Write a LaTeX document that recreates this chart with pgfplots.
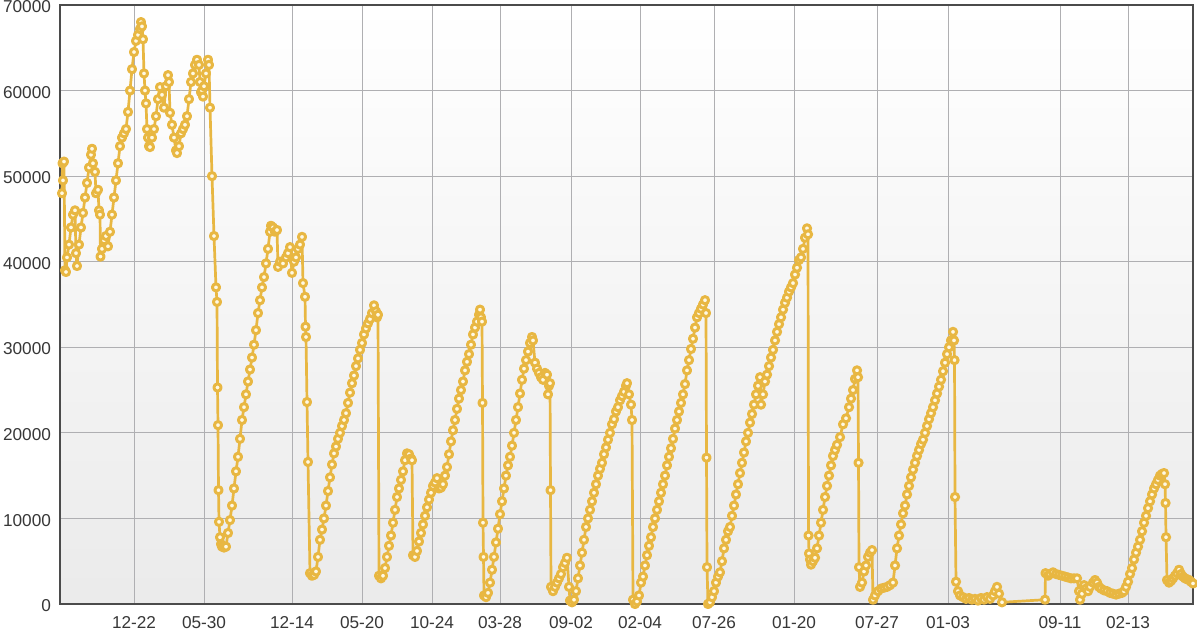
\documentclass[border=0pt]{standalone}
\usepackage{pgfplots}
\pgfplotsset{compat=1.18}
\usepackage{fontspec}
\setmainfont{Liberation Sans}
\definecolor{gold}{RGB}{232,183,66}
\definecolor{markfill}{RGB}{255,249,228}
\definecolor{labelgray}{RGB}{55,55,55}
\definecolor{axisgray}{RGB}{75,75,75}
\definecolor{gridgray}{RGB}{175,175,178}
\begin{document}
\begin{tikzpicture}
\begin{axis}[
  name=ax, at={(0,0)}, anchor=south west,
  scale only axis, width=566.5pt, height=299.5pt,
  xmin=60, xmax=1193, ymin=0, ymax=70000,
  xtick={134,204,292,362,432,500,571,640,714,794,877,948,1060,1128},
  xticklabels={12-22,05-30,12-14,05-20,10-24,03-28,09-02,02-04,07-26,01-20,07-27,01-03,09-11,02-13},
  ytick={0,10000,20000,30000,40000,50000,60000,70000},
  scaled y ticks=false,
  yticklabel style={/pgf/number format/1000 sep={}},
  /pgf/number format/assume math mode=true,
  grid=major,
  major grid style={draw=gridgray, line width=0.45pt},
  major tick length=0pt,
  tick style={draw=none},
  axis line style={draw=axisgray, line width=1.1pt},
  axis background/.style={shade, top color=white, bottom color=gray!16},
  tick label style={font=\fontsize{8.6}{10}\selectfont, color=labelgray},
  xticklabel style={yshift=-2.5pt},
  yticklabel style={xshift=-1pt, yshift=-0.9pt},
  clip=false,
]
\addplot[color=gold, line width=1.35pt, line join=round, line cap=round, mark=*, mark size=1.8pt,
  mark options={fill=markfill, draw=gold, line width=1.5pt}] coordinates {
(62,48000)(62.5,51500)(63,49500)(64,51700)(65,39000)(66,38800)(67,40500)(69,42000)(71,44000)(73,45500)(75,46000)(76,41000)(77,39500)(79,42000)(81,44000)(83,45700)(85,47500)(87,49200)(89,51000)(91,52500)(92,53200)(93,51500)(95,50500)(96,48000)(98,48400)(99,46000)(100,45500)(100.5,40600)(102,41500)(104,42500)(106,43000)(108,41800)(110,43500)(112,45500)(114,47500)(116,49500)(118,51500)(120,53500)(122,54500)(124,55000)(126,55500)(128,57500)(130,60000)(132,62500)(134,64500)(136,65800)(138,66500)(140,67200)(141,68000)(142,67500)(143,66000)(144,62000)(145,60000)(146,58500)(147,55500)(148,54500)(149,53500)(150,53400)(152,54500)(154,55500)(156,57000)(158,59000)(160,60400)(162,59500)(164,58000)(166,60500)(168,61800)(169,61000)(170,57400)(172,56000)(174,54500)(176,53000)(177,52700)(179,53500)(181,55000)(183,55500)(185,56000)(187,57000)(189,59000)(191,61000)(193,62000)(195,63000)(197,63600)(199,63000)(200,61000)(201,59800)(202,60000)(203,59300)(204,60500)(206,62000)(208,63600)(209,63000)
(210,58000)(212,50000)(214,43000)(216,37000)(217,35300)(217.5,25300)(218,20900)(218.5,13300)(219,9600)(220,7800)(221,7000)(222,6700)(224,6600)(226,6700)(228,8300)(230,9800)(232,11500)(234,13500)(236,15500)(238,17200)(240,19300)(242,21500)(244,23000)(246,24500)(248,26000)(250,27400)(252,28800)(254,30300)(256,32000)(258,34000)(260,35500)(262,37000)(264,38200)(266,39800)(268,41500)(270,43500)(271,44200)(273,44000)(275,43500)(277,43700)(278,39400)(280,40000)(283,39800)(286,40500)(288,41000)(290,41700)(292,38700)(294,40000)(296,40500)(298,41500)(300,42000)(302,42900)(303,37500)(305,35900)(305.5,32400)(306,31200)(307,23600)(308,16600)(310,3600)(312,3300)(314,3400)(316,3800)(318,5500)(320,7500)(322,8700)(324,10000)(326,11500)(328,13200)(330,14800)(332,16300)(334,17600)(336,18400)(338,19300)(340,20000)(342,20800)(344,21500)(346,22300)(348,23500)(350,24700)(352,25800)(354,26700)(356,27800)(358,28700)(360,29700)(362,30500)(364,31500)(366,32200)(368,32800)(370,33300)(372,34000)(374,34900)(376,34200)(377,33500)(378,33800)
(379,3300)(381,3000)(383,3300)(385,4200)(387,5500)(389,6800)(391,8000)(393,9500)(395,11000)(397,12500)(399,13500)(401,14500)(403,15500)(405,16800)(407,17600)(409,17500)(411,17000)(412,16800)(413,5700)(415,5500)(417,6200)(419,7300)(421,8300)(423,9300)(425,10300)(427,11300)(429,12200)(431,13000)(433,13800)(435,14200)(437,14700)(439,13500)(441,13600)(443,14000)(445,15000)(447,16000)(449,17500)(451,19000)(453,20300)(455,21500)(457,22800)(459,24000)(461,25000)(463,26000)(465,27300)(467,28300)(469,29200)(471,30300)(473,31500)(475,32300)(477,33000)(479,33800)(480,34400)(481,33500)(482,33000)(482.5,23500)(483,9500)(483.5,5500)(484,1000)(486,800)(488,1300)(490,2500)(492,4000)(494,5500)(496,7200)(498,8800)(500,10500)(502,12000)(504,13500)(506,15000)(508,16200)(510,17200)(512,18500)(514,20000)(516,21500)(518,23000)(520,24600)(522,26200)(524,27500)(526,28500)(528,29500)(530,30500)(532,31200)(533,30800)(535,28200)(537,27500)(539,27000)(541,26500)(543,26200)(545,27000)(547,26800)(548,24500)(549,25500)(550,25800)(550.5,13300)(551,2000)(553,1500)(555,2000)(557,2500)(559,3000)(561,3500)(563,4300)(565,4800)(567,5400)(569,2000)
(570,400)(572,200)(574,500)(576,1500)(578,3000)(580,4500)(582,6000)(584,7500)(586,9000)(588,10000)(590,11000)(592,12000)(594,13000)(596,14000)(598,15000)(600,15800)(602,16500)(604,17500)(606,18300)(608,19200)(610,20000)(612,21000)(614,21600)(616,22500)(618,23000)(620,23800)(622,24300)(624,24800)(626,25500)(627,25800)(629,24500)(631,23300)(632,21500)(633,500)(635,0)(637,300)(639,1000)(641,2500)(643,3200)(645,4500)(647,5700)(649,6800)(651,7800)(653,9000)(655,10000)(657,11000)(659,12000)(661,13000)(663,14000)(665,15000)(667,16200)(669,17200)(671,18200)(673,19300)(675,20500)(677,21500)(679,22500)(681,23500)(683,24500)(685,25700)(687,27300)(689,28500)(691,29800)(693,31000)(695,32300)(697,33500)(699,34000)(701,34500)(703,35000)(705,35500)(706,34000)(706.5,17100)(707,4300)(708,0)(710,200)(712,800)(714,1500)(716,2500)(718,3200)(720,3700)(722,5000)(724,6500)(726,7500)(728,8500)(730,9000)(732,10300)(734,11500)(736,12800)(738,14000)(740,15300)(742,16500)(744,17700)(746,19000)(748,20000)(750,21200)(752,22200)(754,23300)(756,24500)(758,25500)(760,26500)(761,23300)(763,24500)(765,26000)(767,26800)(769,27800)(771,28800)(773,29700)(775,30800)(777,31800)(779,32700)(781,33500)(783,34400)(785,35200)(787,35800)(789,36500)(791,37000)(793,37500)(795,38500)(797,39300)(799,40200)(801,40500)(803,41500)(805,42800)(807,43900)(808,43200)
(808.5,8000)(809,5900)(810,5200)(811,4600)(813,5000)(815,5400)(817,6500)(819,8000)(821,9500)(823,11000)(825,12500)(827,13800)(829,15000)(831,16200)(833,17300)(835,18000)(837,18600)(840,19500)(843,21000)(846,21700)(849,23000)(851,24000)(853,25000)(855,26300)(857,27300)(858,26500)(858.5,16500)(859,4300)(860,2000)(862,2500)(864,3800)(866,4500)(868,5500)(870,6000)(872,6300)(873,500)(875,1000)(878,1500)(881,1800)(884,1900)(887,2000)(890,2200)(893,2500)(895,4500)(897,6500)(899,8000)(901,9300)(903,10600)(905,11500)(907,12800)(909,13800)(911,14800)(913,15700)(915,16500)(917,17300)(919,18000)(921,18700)(923,19200)(925,20000)(927,20800)(929,21600)(931,22300)(933,23000)(935,23800)(937,24600)(939,25400)(941,26200)(943,27200)(945,28200)(947,29200)(949,30000)(951,30800)(953,31800)(954,30800)(954.5,28500)(955,12500)(956,2600)(958,1500)(960,1000)(963,800)(966,600)(969,700)(972,500)(975,600)(978,400)(981,700)(984,500)(987,800)(990,600)(993,1000)(995,1500)(997,2000)(999,1200)(1002,200)(1045,500)(1045.5,3600)(1048,3300)(1050,3500)(1053,3700)(1056,3500)(1059,3400)(1062,3300)(1065,3200)(1068,3100)(1071,3000)(1074,3000)(1077,3000)(1079,1500)(1080,500)(1082,1200)(1084,2200)(1086,1800)(1088,1500)(1090,2000)(1093,2500)(1095,2800)(1097,2500)(1099,2000)(1101,1800)(1104,1600)(1107,1500)(1110,1300)(1113,1200)(1116,1100)(1119,1200)(1122,1300)(1124,1500)(1126,2000)(1128,2600)(1130,3500)(1132,4200)(1134,5200)(1136,6000)(1138,6700)(1140,7500)(1142,8500)(1144,9500)(1146,10300)(1148,11200)(1150,12000)(1152,12800)(1154,13500)(1156,14000)(1158,14500)(1160,15000)(1162,15200)(1164,15300)(1165,14000)(1165.5,11800)(1166,7800)(1167,2800)(1169,2500)(1171,2700)(1173,3000)(1175,3300)(1177,3600)(1179,4000)(1181,3500)(1183,3200)(1185,3000)(1187,2900)(1189,2800)(1191,2600)(1193,2400)
};
\end{axis}
\pgfresetboundingbox
\path[use as bounding box] ([xshift=-30pt,yshift=-15.5pt]ax.south west) rectangle ([xshift=2pt,yshift=2.5pt]ax.north east);
\end{tikzpicture}
\end{document}
